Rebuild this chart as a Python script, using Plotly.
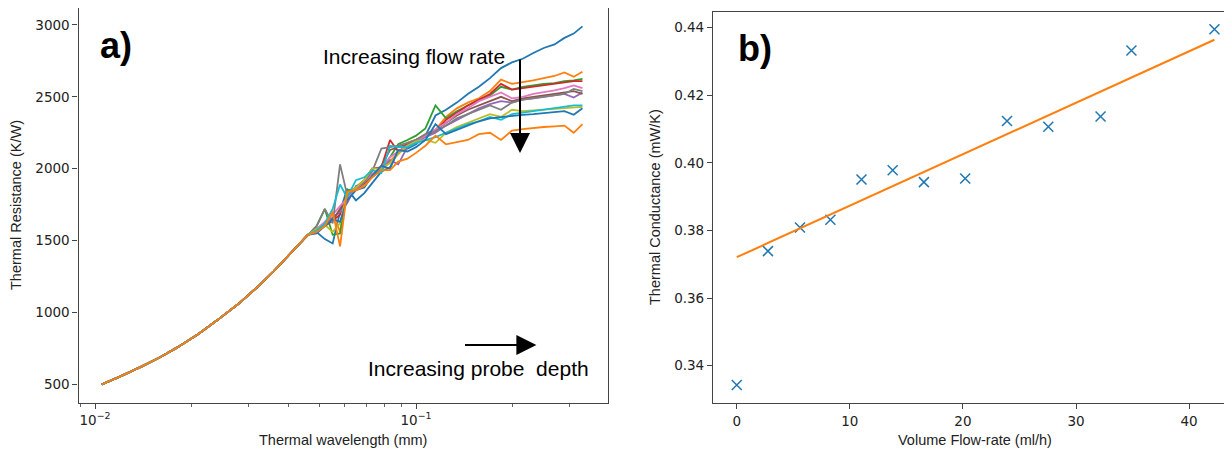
# Thermal resistance vs wavelength (a) and conductance vs flow-rate (b)
import plotly.graph_objects as go

# ---- panel a) data ----
# smooth part shared by all curves
wl_head = [0.0105, 0.012, 0.014, 0.016, 0.018, 0.021, 0.024, 0.028, 0.032, 0.036, 0.041, 0.046]
r_head = [500, 555, 625, 690, 755, 850, 945, 1060, 1175, 1285, 1420, 1540]

# noisy part, one list per flow rate
wl_tail = [0.049, 0.052, 0.055, 0.058, 0.061, 0.065, 0.069, 0.073, 0.078, 0.083,
           0.088, 0.094, 0.100, 0.107, 0.115, 0.124, 0.134, 0.145, 0.157, 0.170,
           0.184, 0.199, 0.215, 0.232, 0.250, 0.270, 0.290, 0.310, 0.330]

r_tail_1 = [1560, 1510, 1480, 1700, 1860, 1780, 1830, 1900, 1980, 2010, 2120, 2140, 2170, 2230, 2370,
            2410, 2460, 2520, 2570, 2630, 2700, 2740, 2765, 2805, 2840, 2865, 2910, 2940, 2990]
r_tail_2 = [1570, 1620, 1700, 1560, 1820, 1860, 1880, 1960, 1990, 2050, 2110, 2180, 2200, 2240, 2270,
            2360, 2420, 2460, 2490, 2540, 2620, 2590, 2600, 2615, 2630, 2645, 2670, 2640, 2675]
r_tail_3 = [1600, 1720, 1540, 1550, 1850, 1860, 1900, 1960, 2000, 2080, 2170, 2200, 2230, 2280, 2440,
            2350, 2400, 2440, 2480, 2510, 2570, 2550, 2570, 2580, 2590, 2595, 2610, 2615, 2625]
r_tail_4 = [1580, 1600, 1640, 1680, 1820, 1870, 1920, 2000, 2010, 2200, 2120, 2160, 2200, 2230, 2260,
            2340, 2390, 2440, 2480, 2520, 2590, 2550, 2560, 2570, 2585, 2595, 2600, 2610, 2610]
r_tail_5 = [1580, 1620, 1660, 1700, 1760, 1880, 1900, 1940, 1990, 2060, 2030, 2150, 2180, 2220, 2250,
            2300, 2340, 2380, 2420, 2450, 2470, 2460, 2480, 2490, 2500, 2510, 2520, 2495, 2530]
r_tail_6 = [1570, 1610, 1640, 1720, 1800, 1860, 1900, 1950, 2020, 2130, 2150, 2170, 2200, 2240, 2270,
            2320, 2370, 2410, 2440, 2470, 2500, 2470, 2490, 2500, 2510, 2520, 2530, 2540, 2520]
r_tail_7 = [1580, 1630, 1680, 1740, 1790, 1860, 1910, 1960, 2010, 2080, 2120, 2160, 2190, 2230, 2270,
            2320, 2380, 2420, 2470, 2500, 2530, 2490, 2500, 2520, 2530, 2545, 2560, 2580, 2560]
r_tail_8 = [1600, 1720, 1620, 2030, 1820, 1870, 1910, 1980, 2140, 2150, 2160, 2180, 2200, 2240, 2260,
            2300, 2350, 2380, 2410, 2440, 2410, 2460, 2480, 2490, 2500, 2510, 2520, 2555, 2540]
r_tail_9 = [1580, 1610, 1560, 1620, 1830, 1870, 1920, 2000, 2000, 2040, 2100, 2160, 2190, 2200, 2180,
            2250, 2290, 2320, 2350, 2380, 2360, 2410, 2400, 2405, 2410, 2415, 2420, 2425, 2430]
r_tail_10 = [1570, 1620, 1720, 1890, 1800, 1920, 1940, 1990, 1970, 2160, 2150, 2150, 2180, 2200, 2220,
             2250, 2280, 2310, 2330, 2360, 2340, 2380, 2390, 2400, 2410, 2420, 2430, 2440, 2440]
r_tail_11 = [1550, 1600, 1650, 1630, 1780, 1850, 1870, 1950, 2020, 2000, 2130, 2120, 2150, 2200, 2310,
             2240, 2270, 2300, 2330, 2350, 2360, 2370, 2375, 2380, 2385, 2395, 2400, 2375, 2420]
r_tail_12 = [1560, 1600, 1700, 1460, 1840, 1850, 1880, 1940, 1990, 1990, 2050, 2070, 2110, 2160, 2230,
             2170, 2185, 2200, 2240, 2250, 2200, 2265, 2275, 2285, 2290, 2295, 2300, 2250, 2310]

# ---- panel b) data ----
flow = [0, 2.76, 5.59, 8.28, 11.03, 13.79, 16.55, 20.2, 23.9, 27.55, 32.17, 34.9, 42.24]
conductance = [0.3343, 0.3739, 0.3809, 0.3832, 0.3951, 0.3978, 0.3943, 0.3954, 0.4124,
               0.4107, 0.4137, 0.4332, 0.4395]
fit_flow = [0, 42.24]
fit_cond = [0.3721, 0.4364]

tab10 = ['#1f77b4', '#ff7f0e', '#2ca02c', '#d62728', '#9467bd',
         '#8c564b', '#e377c2', '#7f7f7f', '#bcbd22', '#17becf']

tails = [r_tail_1, r_tail_2, r_tail_3, r_tail_4, r_tail_5, r_tail_6,
         r_tail_7, r_tail_8, r_tail_9, r_tail_10, r_tail_11, r_tail_12]

fig = go.Figure()

for i, tail in enumerate(tails):
    fig.add_trace(go.Scatter(x=wl_head + wl_tail, y=r_head + tail, mode='lines',
                             line=dict(color=tab10[i % 10], width=1.8),
                             xaxis='x', yaxis='y', showlegend=False))

fig.add_trace(go.Scatter(x=flow, y=conductance, mode='markers',
                         marker=dict(symbol='x-thin', size=10,
                                     line=dict(color='#1f77b4', width=1.5)),
                         xaxis='x2', yaxis='y2', showlegend=False))
fig.add_trace(go.Scatter(x=fit_flow, y=fit_cond, mode='lines',
                         line=dict(color='#ff7f0e', width=2),
                         xaxis='x2', yaxis='y2', showlegend=False))

W, H = 1232, 450
OFF = 8  # the page body margin shifts the figure by 8 px


def px(x):
    return (x - OFF) / W


def py(y):
    return 1 - (y - OFF) / H


tick_font = dict(family='DejaVu Sans', size=13.5, color='#222')
axis_line = dict(showline=True, linecolor='#444', linewidth=1.2, ticks='outside',
                 ticklen=5, tickcolor='#444', showgrid=False, zeroline=False,
                 tickfont=tick_font, automargin=False)

fig.update_layout(
    width=W, height=H,
    margin=dict(l=0, r=0, t=0, b=0),
    paper_bgcolor='white', plot_bgcolor='white',
    xaxis=dict(type='log', range=[-2.0514, -0.4019], domain=[px(78.5), px(608)],
               anchor='y', mirror=True,
               tickvals=[0.01, 0.1], ticktext=['10<sup>\u22122</sup>', '10<sup>\u22121</sup>'],
               minor=dict(tickvals=[0.009, 0.02, 0.03, 0.04, 0.05, 0.06, 0.07, 0.08, 0.09,
                                    0.2, 0.3],
                          ticks='outside', ticklen=3, tickcolor='#666'),
               **axis_line),
    yaxis=dict(range=[372, 3116], domain=[py(402.7), py(8.3)], anchor='x',
               mirror=True, tickvals=[500, 1000, 1500, 2000, 2500, 3000], **axis_line),
    xaxis2=dict(range=[-2.1, 44.5], domain=[px(713), 1.0], anchor='y2', mirror=True,
                tickvals=[0, 10, 20, 30, 40], **axis_line),
    yaxis2=dict(range=[0.3289, 0.4447], domain=[py(403.3), py(11.7)], anchor='x2',
                tickvals=[0.34, 0.36, 0.38, 0.40, 0.42, 0.44], tickformat='.2f', **axis_line),
)

title_font = dict(family='Liberation Sans, Arial', size=14.5, color='#222')
label_font = dict(family='Liberation Sans, Arial', size=21, color='black')
panel_font = dict(family='Liberation Sans, Arial', size=36, color='black')

# axis titles
titles = [
    ('Thermal wavelength (mm)', 343, 440, 0),
    ('Thermal Resistance (K/W)', 16, 205, -90),
    ('Volume Flow-rate (ml/h)', 975, 440, 0),
    ('Thermal Conductance (mW/K)', 655, 207, -90),
]
for text, tx, ty, angle in titles:
    fig.add_annotation(text=text, xref='paper', yref='paper', x=px(tx), y=py(ty),
                       xanchor='center', yanchor='middle', textangle=angle,
                       showarrow=False, font=title_font)

# panel labels
fig.add_annotation(text='<b>a)</b>', xref='x', yref='y', x=-1.935, y=2860,
                   showarrow=False, font=panel_font)
fig.add_annotation(text='<b>b)</b>', xref='x2', yref='y2', x=1.6, y=0.4338,
                   showarrow=False, font=panel_font)

# arrows and notes in panel a
fig.add_annotation(text='Increasing flow rate', xref='x', yref='y', x=-1.296, y=2784,
                   xanchor='left', showarrow=False, font=label_font)
fig.add_annotation(text='', xref='x', yref='y', axref='x', ayref='y',
                   x=-0.676, y=2109, ax=-0.676, ay=2770, showarrow=True,
                   arrowhead=2, arrowsize=2, arrowwidth=2, arrowcolor='black')
fig.add_annotation(text='Increasing probe \u00a0depth', xref='x', yref='y', x=-1.156, y=607,
                   xanchor='left', showarrow=False, font=label_font)
fig.add_annotation(text='', xref='x', yref='y', axref='x', ayref='y',
                   x=-0.625, y=773, ax=-0.852, ay=773, showarrow=True,
                   arrowhead=2, arrowsize=2, arrowwidth=2, arrowcolor='black')

fig.write_html("out.html")
